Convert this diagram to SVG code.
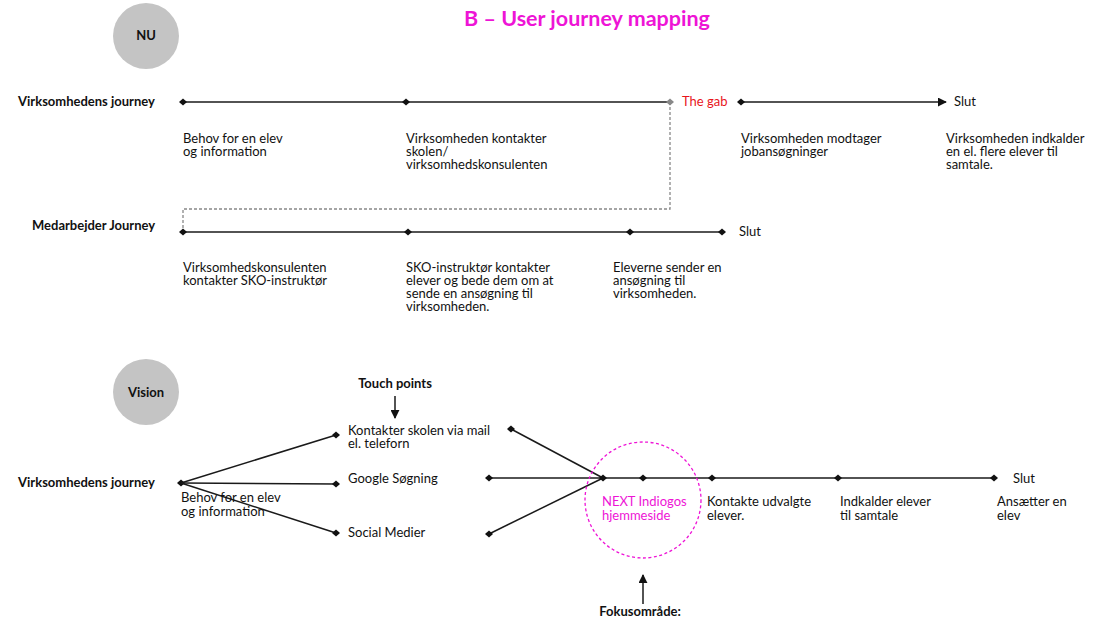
<svg xmlns="http://www.w3.org/2000/svg" width="1106" height="621" viewBox="0 0 1106 621">
<style>
text{font-family:Lato,"Open Sans","Liberation Sans",sans-serif;font-size:13px;fill:#111}
.b{font-weight:bold}
.ln{stroke:#1a1a1a;stroke-width:1.5;fill:none}
.pk{fill:#ee14d6}
.circ{fill:#c4c4c4}
</style>
<defs>
<marker id="dm" viewBox="-5 -5 10 10" markerWidth="10" markerHeight="10" refX="0" refY="0" markerUnits="userSpaceOnUse"><path d="M-4 0L0-3.6L4 0L0 3.6Z" fill="#111"/></marker>
<marker id="dg" viewBox="-5 -5 10 10" markerWidth="10" markerHeight="10" refX="0" refY="0" markerUnits="userSpaceOnUse"><path d="M-4 0L0-3.6L4 0L0 3.6Z" fill="#888"/></marker>
<marker id="ar" viewBox="0 0 10 10" markerWidth="9" markerHeight="9" refX="9" refY="5" orient="auto" markerUnits="userSpaceOnUse"><path d="M0 0L10 5L0 10Z" fill="#111"/></marker>
</defs>
<text id="title" class="b" x="587" y="26" text-anchor="middle" style="font-size:21.5px;fill:#ee14d6">B – User journey mapping</text>

<g id="nu"><circle class="circ" cx="146" cy="36" r="33"/><text class="b" x="146" y="40" text-anchor="middle">NU</text></g>
<g id="vision"><circle class="circ" cx="146" cy="392" r="33"/><text class="b" x="146" y="397" text-anchor="middle">Vision</text></g>

<g id="connectors">
<path class="ln" d="M183 102H406H670" marker-start="url(#dm)" marker-mid="url(#dm)"/>
<path d="M670 102V209H183V232" stroke="#888" stroke-width="1.3" stroke-dasharray="3,2" fill="none" marker-start="url(#dg)"/>
<path class="ln" d="M741 102H946" marker-start="url(#dm)" marker-end="url(#ar)"/>
<path class="ln" d="M183 232H408H630H722" marker-start="url(#dm)" marker-mid="url(#dm)" marker-end="url(#dm)"/>
<path class="ln" d="M181 483L336 435" marker-start="url(#dm)" marker-end="url(#dm)"/>
<path class="ln" d="M181 483L336 484" marker-end="url(#dm)"/>
<path class="ln" d="M181 483L336 533" marker-end="url(#dm)"/>
<path class="ln" d="M511 429L603 478" marker-start="url(#dm)"/>
<path class="ln" d="M489 534L603 478" marker-start="url(#dm)"/>
<path class="ln" d="M489 478H603H643H712H838H994" marker-start="url(#dm)" marker-mid="url(#dm)" marker-end="url(#dm)"/>
<path class="ln" d="M395 396V418" marker-end="url(#ar)"/>
<path class="ln" d="M643 604V575" marker-end="url(#ar)"/>
<circle cx="643" cy="500" r="58" fill="none" stroke="#ee14d6" stroke-width="1.3" stroke-dasharray="3,2.5"/>
</g>

<g id="labels-top">
<text class="b" x="18" y="106">Virksomhedens journey</text>
<text x="682" y="106" style="fill:#e8141c">The gab</text>
<text x="954" y="106">Slut</text>
<text x="183" y="143">Behov for en elev</text><text x="183" y="156">og information</text>
<text x="406" y="143">Virksomheden kontakter</text><text x="406" y="156">skolen/</text><text x="406" y="169">virksomhedskonsulenten</text>
<text x="741" y="143">Virksomheden modtager</text><text x="741" y="156">jobansøgninger</text>
<text x="946" y="143">Virksomheden indkalder</text><text x="946" y="156">en el. flere elever til</text><text x="946" y="169">samtale.</text>
</g>
<g id="labels-mid">
<text class="b" x="32" y="230">Medarbejder Journey</text>
<text x="739" y="236">Slut</text>
<text x="183" y="272">Virksomhedskonsulenten</text><text x="183" y="285">kontakter SKO-instruktør</text>
<text x="406" y="272">SKO-instruktør kontakter</text><text x="406" y="285">elever og bede dem om at</text><text x="406" y="298">sende en ansøgning til</text><text x="406" y="311">virksomheden.</text>
<text x="613" y="272">Eleverne sender en</text><text x="613" y="285">ansøgning til</text><text x="613" y="298">virksomheden.</text>
</g>
<g id="labels-vision">
<text class="b" x="395" y="388" text-anchor="middle">Touch points</text>
<text class="b" x="18" y="487">Virksomhedens journey</text>
<text x="181" y="502">Behov for en elev</text><text x="181" y="516">og information</text>
<text x="348" y="435">Kontakter skolen via mail</text><text x="348" y="448">el. teleforn</text>
<text x="348" y="483">Google Søgning</text>
<text x="348" y="537">Social Medier</text>
<text x="602" y="506" style="fill:#ee14d6">NEXT Indiogos</text><text x="602" y="520" style="fill:#ee14d6">hjemmeside</text>
<text x="707" y="506">Kontakte udvalgte</text><text x="707" y="520">elever.</text>
<text x="840" y="506">Indkalder elever</text><text x="840" y="520">til samtale</text>
<text x="997" y="506">Ansætter en</text><text x="997" y="520">elev</text>
<text x="1013" y="483">Slut</text>
<text class="b" x="640" y="616" text-anchor="middle">Fokusområde:</text>
</g>
</svg>
